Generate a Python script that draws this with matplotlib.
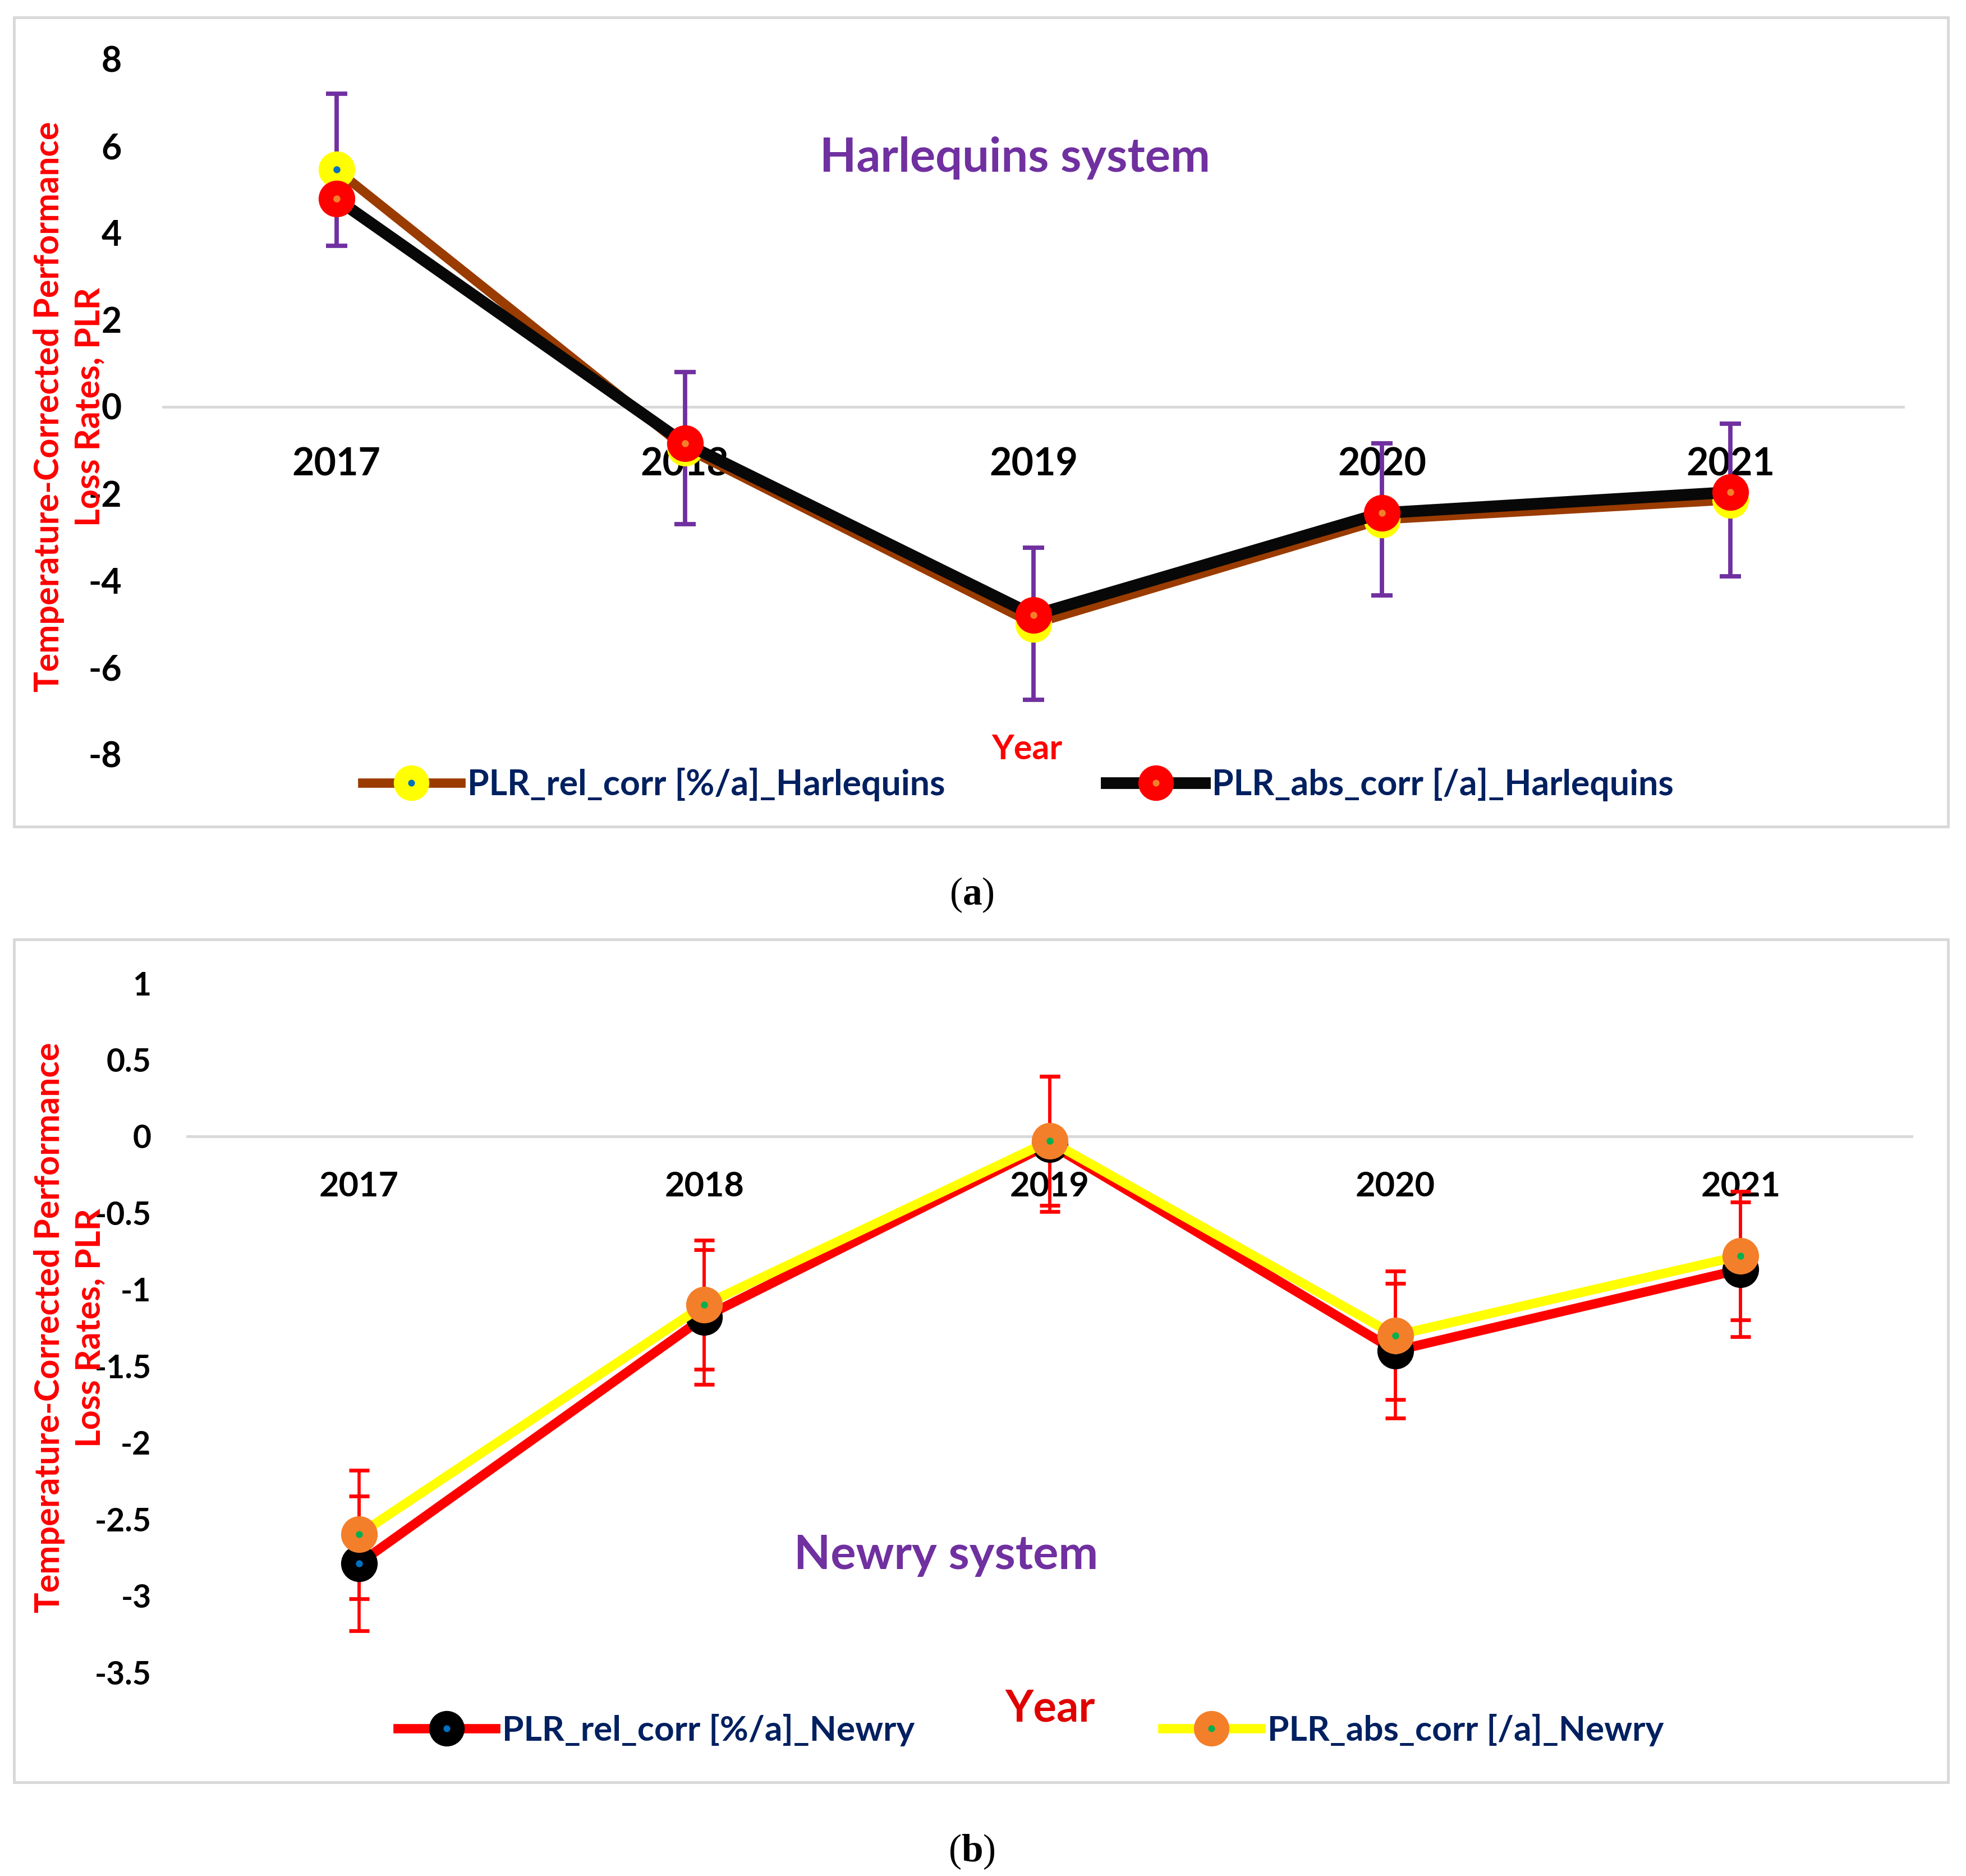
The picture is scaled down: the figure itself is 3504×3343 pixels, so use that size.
import matplotlib
matplotlib.use("Agg")
import matplotlib.pyplot as plt
from matplotlib.patches import Rectangle
from matplotlib.legend_handler import HandlerTuple

# values
years = ["2017", "2018", "2019", "2020", "2021"]

harl_rel = [5.45, -0.95, -5.0, -2.6, -2.15]
harl_abs = [4.78, -0.85, -4.80, -2.45, -1.97]
harl_rel_err = [1.75, 1.75, 1.75, 1.75, 1.75]
harl_yticks = [8, 6, 4, 2, 0, -2, -4, -6, -8]
harl_ylabels = ["8", "6", "4", "2", "0", "-2", "-4", "-6", "-8"]

newry_rel = [-2.79, -1.18, -0.05, -1.40, -0.87]
newry_abs = [-2.60, -1.10, -0.03, -1.30, -0.78]
newry_rel_err = [0.44, 0.44, 0.44, 0.44, 0.44]
newry_abs_err = [0.42, 0.42, 0.42, 0.42, 0.42]
newry_yticks = [1, 0.5, 0, -0.5, -1, -1.5, -2, -2.5, -3, -3.5]
newry_ylabels = ["1", "0.5", "0", "-0.5", "-1", "-1.5", "-2", "-2.5", "-3", "-3.5"]

ylabel_text = "Temperature-Corrected Performance\nLoss Rates, PLR"

plt.rcParams['font.family'] = ['Lato', 'DejaVu Sans']
plt.rcParams['font.weight'] = 'bold'
plt.rcParams['mathtext.fontset'] = 'custom'
plt.rcParams['mathtext.rm'] = 'Liberation Serif'
plt.rcParams['mathtext.bf'] = 'Liberation Serif:bold'

W, H = 3504, 3343
GRID = '#D9D9D9'
PURPLE = '#7030A0'
NAVY = '#002060'
RED = '#FF0000'

fig = plt.figure(figsize=(W / 200, H / 200), dpi=200)


def fx(px):
    return px / W


def fy(py):
    return 1 - py / H


def style_axes(ax, yticks, ylabels, ylim, tick_fs, xtick_fs, xpad, ypad):
    ax.set_xlim(-0.5, 4.5)
    ax.set_ylim(*ylim)
    ax.set_yticks(yticks)
    ax.set_yticklabels(ylabels, fontsize=tick_fs, fontweight='bold')
    for s in ax.spines.values():
        s.set_visible(False)
    ax.spines['bottom'].set_position(('data', 0))
    ax.tick_params(axis='both', length=0)
    ax.tick_params(axis='x', pad=xpad, labelsize=xtick_fs)
    ax.tick_params(axis='y', pad=ypad)
    ax.axhline(0, color=GRID, lw=1.8, zorder=1)
    ax.set_facecolor('none')


# ---------------- panel (a) ----------------
fig.add_artist(Rectangle((fx(25), fy(1473)), fx(3472 - 25), (1473 - 31) / H,
                         transform=fig.transFigure, fill=False, ec=GRID, lw=1.8))
ax1 = fig.add_axes([fx(289), fy(1344), fx(3395 - 289), (1344 - 105) / H])

ax1.errorbar(years, harl_rel, yerr=harl_rel_err, fmt='none', ecolor=PURPLE,
             elinewidth=2.8, capsize=7, capthick=2.8, zorder=2)
l1, = ax1.plot(years, harl_rel, color='#9A3B00', lw=6, marker='o', ms=23.5,
               mfc='#FFFF00', mec='#FFFF00', mew=0, zorder=3)
d1, = ax1.plot(years, harl_rel, ls='none', marker='o', ms=4.5, mfc='#0070C0', mew=0, zorder=3.1)
l2, = ax1.plot(years, harl_abs, color='#080808', lw=7.5, marker='o', ms=23.5,
               mfc=RED, mec=RED, mew=0, zorder=4)
d2, = ax1.plot(years, harl_abs, ls='none', marker='o', ms=4.5, mfc='#F47F2A', mew=0, zorder=4.1)

style_axes(ax1, harl_yticks, harl_ylabels, (-8, 8), 22.5, 24.5, 26, 26)

fig.text(fx(1809), fy(282), "Harlequins system", color=PURPLE, fontsize=30.5,
         ha='center', va='center')
fig.text(fx(1830), fy(1335), "Year", color=RED, fontsize=22, ha='center', va='center')
fig.text(fx(123), fy(725), ylabel_text, color=RED, fontsize=22, rotation=90,
         ha='center', va='center', multialignment='center', linespacing=1.35)
ax1.legend([(l1, d1), (l2, d2)],
           ["PLR_rel_corr [%/a]_Harlequins", "PLR_abs_corr [/a]_Harlequins"],
           handler_map={tuple: HandlerTuple(ndivide=1)},
           loc='center', bbox_to_anchor=(fx(1814), fy(1398)), bbox_transform=fig.transFigure,
           ncol=2, frameon=False, fontsize=22.5, labelcolor=NAVY, numpoints=1,
           handlelength=2.8, handletextpad=0.2, columnspacing=4.6, markerscale=0.97,
           borderpad=0, borderaxespad=0)

fig.text(fx(1732), fy(1595), r"($\mathbf{a}$)", family='Liberation Serif', fontweight='normal',
         fontsize=25, ha='center', va='center')

# ---------------- panel (b) ----------------
fig.add_artist(Rectangle((fx(25), fy(3176)), fx(3472 - 25), (3176 - 1674) / H,
                         transform=fig.transFigure, fill=False, ec=GRID, lw=1.8))
ax2 = fig.add_axes([fx(332), fy(2980), fx(3410 - 332), (2980 - 1752) / H])

ax2.errorbar(years, newry_rel, yerr=newry_rel_err, fmt='none', ecolor=RED,
             elinewidth=2, capsize=6.6, capthick=2.4, zorder=2)
ax2.errorbar(years, newry_abs, yerr=newry_abs_err, fmt='none', ecolor=RED,
             elinewidth=2, capsize=6.6, capthick=2.4, zorder=2)
m1, = ax2.plot(years, newry_rel, color=RED, lw=6, marker='o', ms=23.5,
               mfc='#000000', mec='#000000', mew=0, zorder=3)
e1, = ax2.plot(years, newry_rel, ls='none', marker='o', ms=4.5, mfc='#0070C0', mew=0, zorder=3.1)
m2, = ax2.plot(years, newry_abs, color='#FFFF00', lw=6, marker='o', ms=23.5,
               mfc='#F47F2A', mec='#F47F2A', mew=0, zorder=4)
e2, = ax2.plot(years, newry_abs, ls='none', marker='o', ms=4.5, mfc='#00B050', mew=0, zorder=4.1)

style_axes(ax2, newry_yticks, newry_ylabels, (-3.5, 1), 20.5, 22, 22, 22.5)

fig.text(fx(1686), fy(2771), "Newry system", color=PURPLE, fontsize=30.5,
         ha='center', va='center')
fig.text(fx(1872), fy(3046), "Year", color='#E00000', fontsize=28, ha='center', va='center')
fig.text(fx(124), fy(2366), ylabel_text, color=RED, fontsize=22, rotation=90,
         ha='center', va='center', multialignment='center', linespacing=1.35)
ax2.legend([(m1, e1), (m2, e2)],
           ["PLR_rel_corr [%/a]_Newry", "PLR_abs_corr [/a]_Newry"],
           handler_map={tuple: HandlerTuple(ndivide=1)},
           loc='center', bbox_to_anchor=(fx(1837), fy(3083)), bbox_transform=fig.transFigure,
           ncol=2, frameon=False, fontsize=22.4, labelcolor=NAVY, numpoints=1,
           handlelength=2.8, handletextpad=0.2, columnspacing=7.1, markerscale=0.97,
           borderpad=0, borderaxespad=0)

fig.text(fx(1732), fy(3300), r"($\mathbf{b}$)", family='Liberation Serif', fontweight='normal',
         fontsize=25, ha='center', va='center')

fig.savefig("out.png", dpi=200)
